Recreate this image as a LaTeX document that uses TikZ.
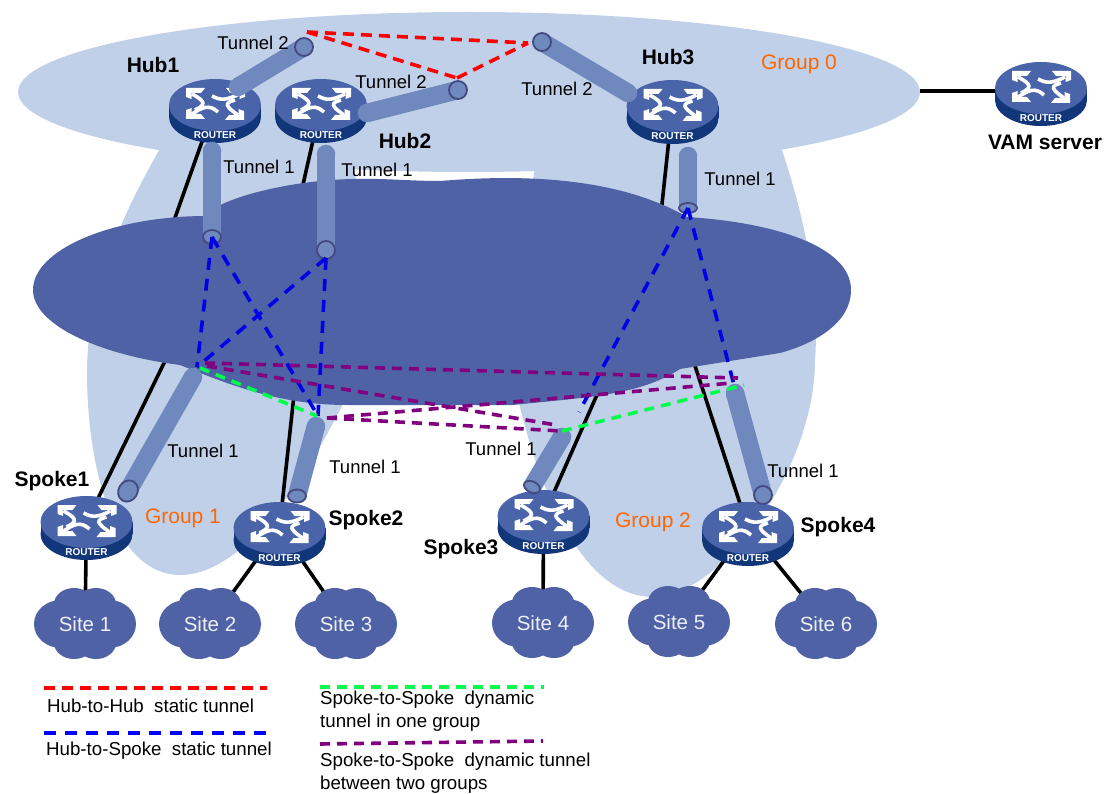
\documentclass[tikz,border=0pt]{standalone}
\usepackage{xcolor}
\usepackage{fontspec}
\setmainfont{Liberation Sans}
\usetikzlibrary { shapes.geometric,
}

\definecolor{groupblue}{HTML}{C1D0E9}
\definecolor{netblue}{HTML}{4F62A5}
\definecolor{pipeblue}{HTML}{6F89BE}
\definecolor{ringblue}{HTML}{44497F}
\definecolor{routertop}{HTML}{4A64AA}
\definecolor{routerside}{HTML}{12367A}
\definecolor{grouporange}{HTML}{FF6600}
\definecolor{dashgreen}{HTML}{00FF4C}
\definecolor{dashpurple}{HTML}{800080}

\tikzset{
	lbl/.style={font=\fontsize{18.5}{21}\selectfont, inner sep=0pt},
	leglbl/.style={font=\fontsize{18.7}{22}\selectfont, inner sep=0pt, anchor=west},
	devlbl/.style={font=\fontsize{21}{24}\selectfont\bfseries, inner sep=0pt},
	grplbl/.style={font=\fontsize{21}{24}\selectfont, text=grouporange, inner sep=0pt},
	sitelbl/.style={font=\fontsize{20.5}{24}\selectfont, text=white!90!netblue, inner sep=0pt},
	link/.style={line width=3.6pt},
	pipe/.style={line width=18.5pt, pipeblue},
	ring/.style={ellipse, draw=ringblue, fill=pipeblue, line width=1.8pt, inner sep=0pt, minimum width=18pt, minimum height=18pt},
	hubdash/.style={red, line width=3.6pt, dash pattern=on 11pt off 7pt},
	spokedash/.style={blue!90!black, line width=3.6pt, dash pattern=on 12pt off 9pt},
	groupdash/.style={dashgreen, line width=3.6pt, dash pattern=on 10pt off 7pt},
	crossdash/.style={dashpurple, line width=3.6pt, dash pattern=on 10pt off 7pt},
	routerhead/.style={white},
	routertail/.style={white, line width=3.6pt},
	router/.pic={
		\fill[routerside] (0,12) ellipse [x radius=46, y radius=26];
		\fill[routerside] (-46,0) rectangle (46,12);
		\fill[routertop] (0,0) ellipse [x radius=46, y radius=26];
		\fill[routerhead] (-29,-17) -- (-10,-17) -- (-14,-12) -- (-23.5,-12) -- (-23.5,-6) -- (-29,-8) -- cycle;
		\fill[routerhead] (30,-17) -- (11,-17) -- (15,-12) -- (24.5,-12) -- (24.5,-6) -- (30,-8) -- cycle;
		\fill[routerhead] (-29,14) -- (-10,14) -- (-14,9) -- (-23.5,9) -- (-23.5,3) -- (-29,5) -- cycle;
		\fill[routerhead] (29,15) -- (10,15) -- (14,10) -- (23.5,10) -- (23.5,4) -- (29,6) -- cycle;
		\draw[routertail] (-23,-11) .. controls (-8,-3) and (-10,0) .. (-20,5);
		\draw[routertail] (24,-11) .. controls (12,-5) and (6,-4) .. (-3,-9);
		\draw[routertail] (-23,9) .. controls (-12,2) and (-6,-1) .. (3,7);
		\draw[routertail] (23,10) .. controls (10,1) and (9,-2) .. (20,-5);
		\node[text=white, inner sep=0pt, font=\fontsize{10}{11}\selectfont\bfseries] (-txt) at (0,30) {ROUTER};
	},
	sitecloud/.pic={
		\fill[netblue] (-24,0) ellipse [x radius=27, y radius=24];
		\fill[netblue] (24,0) ellipse [x radius=27, y radius=24];
		\fill[netblue] (-11,-20) ellipse [x radius=20, y radius=16];
		\fill[netblue] (11,-20) ellipse [x radius=20, y radius=16];
		\fill[netblue] (-11,19) ellipse [x radius=20, y radius=16];
		\fill[netblue] (11,19) ellipse [x radius=20, y radius=16];
	},
}

\newcommand{\drawpipe}[3]{
	\fill[pipeblue] (#1) circle (9.25);
	\draw[pipe] (#1) -- (#2);
	\node[ring,#3] (#2-end) at (#2) {};
}

\begin{document}
\begin{tikzpicture}[x=1pt, y=-1pt]
	\useasboundingbox (0,0) rectangle (1105,794);

	\coordinate (hub1) at (215,105);
	\coordinate (hub2) at (321,105);
	\coordinate (hub3) at (672.5,106);
	\coordinate (vam) at (1041,88);
	\coordinate (spoke1) at (86.5,522);
	\coordinate (spoke2) at (279.5,528);
	\coordinate (spoke3) at (543.5,516);
	\coordinate (spoke4) at (748,528);
	\coordinate (site1) at (85,624);
	\coordinate (site2) at (210,624);
	\coordinate (site3) at (346,624);
	\coordinate (site4) at (543,623);
	\coordinate (site5) at (679,622);
	\coordinate (site6) at (826,624);

	% groups
	\fill[groupblue] (165,140) .. controls (115,225) and (87,300) .. (87,372) .. controls (87,470) and (115,575) .. (180,575) .. controls (240,575) and (300,490) .. (345,400) .. controls (380,300) and (370,220) .. (345,140) -- cycle;
	\fill[groupblue] (540,140) -- (533,180) .. controls (510,280) and (505,340) .. (520,407) .. controls (545,510) and (590,597) .. (653,597) .. controls (720,597) and (815,470) .. (815,360) .. controls (820,290) and (805,220) .. (782,150) -- cycle;
	\fill[groupblue] (469,92) ellipse [x radius=451, y radius=80];

	% links, the far ends are hidden by the network
	\coordinate (coreh1) at (160,260);
	\coordinate (coreh2) at (295,220);
	\coordinate (coreh3) at (656,260);
	\coordinate (cores1) at (185,320);
	\coordinate (cores2) at (300,340);
	\coordinate (cores3) at (630,320);
	\coordinate (cores4) at (680,320);
	\coordinate (vamport) at (1000,91);
	\coordinate (vamcore) at (920,91);
	\draw[link] (hub1) -- (coreh1);
	\draw[link] (hub2) -- (coreh2);
	\draw[link] (hub3) -- (coreh3);
	\draw[link] (spoke1) -- (cores1);
	\draw[link] (spoke2) -- (cores2);
	\draw[link] (spoke3) -- (cores3);
	\draw[link] (spoke4) -- (cores4);
	\draw[link] (vamport) -- (vamcore);
	\draw[link] (spoke1) -- (site1);
	\draw[link] (spoke2) -- (site2);
	\draw[link] (spoke2) -- (site3);
	\draw[link] (spoke3) -- (site4);
	\draw[link] (spoke4) -- (site5);
	\draw[link] (spoke4) -- (site6);

	\pic (site1c) at (site1) {sitecloud};
	\pic (site2c) at (site2) {sitecloud};
	\pic (site3c) at (site3) {sitecloud};
	\pic (site4c) at (site4) {sitecloud};
	\pic (site5c) at (site5) {sitecloud};
	\pic (site6c) at (site6) {sitecloud};
	\node[sitelbl] (site1l) at (site1) {Site 1};
	\node[sitelbl] (site2l) at (site2) {Site 2};
	\node[sitelbl] (site3l) at (site3) {Site 3};
	\node[sitelbl] (site4l) at (site4) {Site 4};
	\node[sitelbl] (site5l) at (site5) {Site 5};
	\node[sitelbl] (site6l) at (site6) {Site 6};

	% network
	\fill[netblue] (33,290) .. controls (33,250) and (110,217) .. (203,216) -- (215,208) .. controls (240,193) and (300,180) .. (353,179) .. controls (380,178) and (410,181) .. (440,181) .. controls (500,176) and (610,172) .. (687,217) .. controls (770,222) and (851,245) .. (851,290) .. controls (851,325) and (810,345) .. (780,353) -- (680,369) .. controls (640,395) and (590,397) .. (513,405) -- (347,405) .. controls (280,405) and (230,385) .. (180,365) .. controls (100,355) and (33,325) .. (33,290) -- cycle;

	\pic (hub1r) at (hub1) {router};
	\pic (hub2r) at (hub2) {router};
	\pic (hub3r) at (hub3) {router};
	\pic (vamr) at (vam) {router};
	\pic (spoke1r) at (spoke1) {router};
	\pic (spoke2r) at (spoke2) {router};
	\pic (spoke3r) at (spoke3) {router};
	\pic (spoke4r) at (spoke4) {router};

	% tunnels
	\coordinate (h1a) at (212,151);
	\coordinate (h1b) at (212,237);
	\coordinate (h1c) at (238,87);
	\coordinate (h1d) at (304,47);
	\coordinate (h2a) at (326,154);
	\coordinate (h2b) at (326,250);
	\coordinate (h2c) at (367,113);
	\coordinate (h2d) at (458,90);
	\coordinate (h3a) at (688,156);
	\coordinate (h3b) at (688,208);
	\coordinate (h3c) at (628,93);
	\coordinate (h3d) at (542,42);
	\coordinate (s1a) at (193,377);
	\coordinate (s1b) at (128,491);
	\coordinate (s2a) at (316,426);
	\coordinate (s2b) at (297,496);
	\coordinate (s3a) at (562,437);
	\coordinate (s3b) at (532,487);
	\coordinate (s4a) at (735,393);
	\coordinate (s4b) at (763,495);
	\drawpipe{h1a}{h1b}{minimum height=14pt}
	\drawpipe{h1c}{h1d}{}
	\drawpipe{h2a}{h2b}{}
	\drawpipe{h2c}{h2d}{}
	\drawpipe{h3a}{h3b}{minimum width=18pt, minimum height=10pt}
	\drawpipe{h3c}{h3d}{}
	\drawpipe{s1a}{s1b}{minimum width=19pt, minimum height=22pt, rotate=-30}
	\drawpipe{s2a}{s2b}{minimum width=18pt, minimum height=13pt}
	\drawpipe{s3a}{s3b}{minimum width=17pt, minimum height=11pt, rotate=-25}
	\drawpipe{s4a}{s4b}{}

	% dashed tunnels
	\coordinate (redtip) at (307,32);
	\coordinate (redmid) at (457,78);
	\coordinate (redend) at (528,43);
	\draw[hubdash] (redtip) -- (redend);
	\draw[hubdash] (redtip) -- (redmid);
	\draw[hubdash] (redmid) -- (redend);

	\coordinate (bluehub1) at (212,237);
	\coordinate (bluehub2) at (326,258);
	\coordinate (bluehub3) at (688,208);
	\coordinate (bluespoke1) at (197,367);
	\coordinate (bluespoke2) at (318,416);
	\coordinate (bluespoke3) at (579,412);
	\coordinate (bluespoke4) at (734,385);
	\draw[spokedash] (bluehub1) -- (bluespoke1);
	\draw[spokedash] (bluehub1) -- (bluespoke2);
	\draw[spokedash] (bluehub2) -- (bluespoke1);
	\draw[spokedash] (bluehub2) -- (bluespoke2);
	\draw[spokedash] (bluehub3) -- (bluespoke3);
	\draw[spokedash] (bluehub3) -- (bluespoke4);

	\coordinate (greena) at (200,368);
	\coordinate (greenb) at (317,416);
	\coordinate (greenc) at (562,431);
	\coordinate (greend) at (744,385);
	\draw[groupdash] (greena) -- (greenb);
	\draw[groupdash] (greenc) -- (greend);

	\coordinate (purplea) at (205,363);
	\coordinate (purpleb) at (738,378);
	\coordinate (purplec) at (207,366);
	\coordinate (purpled) at (556,425);
	\coordinate (purplee) at (327,418);
	\coordinate (purplef) at (732,383);
	\coordinate (purpleg) at (561,431);
	\draw[crossdash] (purplea) -- (purpleb);
	\draw[crossdash] (purplec) -- (purpled);
	\draw[crossdash] (purplee) -- (purplef);
	\draw[crossdash] (purplee) -- (purpleg);

	% labels
	\node[devlbl] (hub1l) at (153,65) {Hub1};
	\node[devlbl] (hub2l) at (405,141) {Hub2};
	\node[devlbl] (hub3l) at (668,57) {Hub3};
	\node[devlbl] (vaml) at (1045,142) {VAM server};
	\node[devlbl] (spoke1l) at (52,481) {Spoke1};
	\node[devlbl] (spoke2l) at (366,520) {Spoke2};
	\node[devlbl] (spoke3l) at (461,549) {Spoke3};
	\node[devlbl] (spoke4l) at (838,527) {Spoke4};

	\node[grplbl] (group0) at (799,64) {Group 0};
	\node[grplbl] (group1) at (183,518) {Group 1};
	\node[grplbl] (group2) at (653,522) {Group 2};

	\node[lbl] (t2h1) at (253,43) {Tunnel 2};
	\node[lbl] (t2h2) at (391,82) {Tunnel 2};
	\node[lbl] (t2h3) at (557,89) {Tunnel 2};
	\node[lbl] (t1h1) at (259,167) {Tunnel 1};
	\node[lbl] (t1h2) at (377,170) {Tunnel 1};
	\node[lbl] (t1h3) at (740,179) {Tunnel 1};
	\node[lbl] (t1s1) at (203,451) {Tunnel 1};
	\node[lbl] (t1s2) at (365,467) {Tunnel 1};
	\node[lbl] (t1s3) at (501,449) {Tunnel 1};
	\node[lbl] (t1s4) at (803,471) {Tunnel 1};

	% legend
	\coordinate (lega) at (44,688);
	\coordinate (legb) at (267,688);
	\coordinate (legc) at (44,733);
	\coordinate (legd) at (272,733);
	\coordinate (lege) at (320,687);
	\coordinate (legf) at (544,687);
	\coordinate (legg) at (320,744);
	\coordinate (legh) at (543,741);
	\draw[hubdash] (lega) -- (legb);
	\draw[spokedash, blue] (legc) -- (legd);
	\draw[groupdash] (lege) -- (legf);
	\draw[crossdash] (legg) -- (legh);
	\node[leglbl] (legtxta) at (47,706) {Hub-to-Hub~~static tunnel};
	\node[leglbl] (legtxtb) at (46,751) {Hub-to-Spoke~~static tunnel};
	\node[leglbl] (legtxtc) at (320,700) {Spoke-to-Spoke~~dynamic};
	\node[leglbl] (legtxtd) at (320,723) {tunnel in one group};
	\node[leglbl] (legtxte) at (320,762) {Spoke-to-Spoke~~dynamic tunnel};
	\node[leglbl] (legtxtf) at (320,785) {between two groups};
\end{tikzpicture}
\end{document}
